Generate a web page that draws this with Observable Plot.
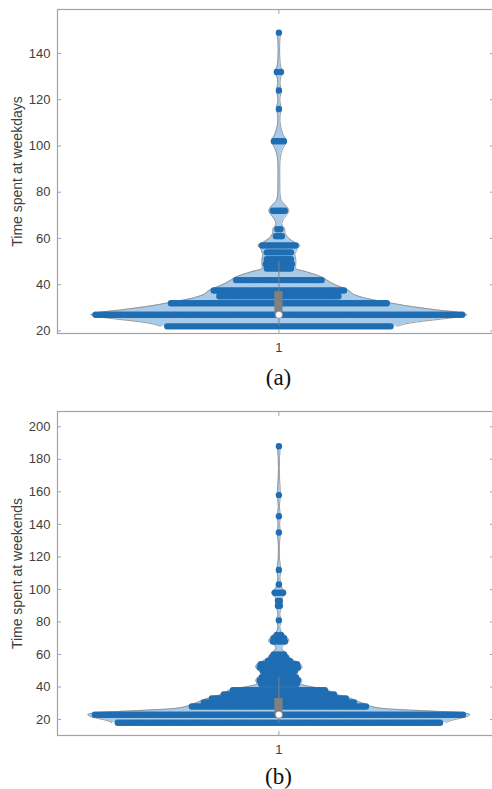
<!DOCTYPE html>
<html>
<head>
<meta charset="utf-8">
<script src="https://cdn.jsdelivr.net/npm/d3@7"></script>
<script src="https://cdn.jsdelivr.net/npm/@observablehq/plot@0.6"></script>
<style>
  html, body { margin: 0; padding: 0; background: #fff; overflow: hidden; width: 492px; }
  .cap { font-family: "Liberation Serif", "Times New Roman", serif; font-size: 23px; color: #111;
         width: 557px; text-align: center; height: 42px; line-height: 36px; }
  .cap.last { height: 27px; line-height: 30px; }
  #wrap > svg { display: block; }
</style>
</head>
<body>
<div id="wrap"></div>
<script>
// ---------- data ----------
const groups = ["1"];

// (a) weekdays: dot rows (value, half-spread as normalised density, number of dots)
const weekdayLevels = [22, 27, 32, 35, 37.5, 42, 47, 49, 51, 54, 57, 61, 64, 72, 102, 116, 124, 132, 149];
const weekdaySpread = [0.60, 0.985, 0.58, 0.32, 0.35, 0.23, 0.065, 0.07, 0.065, 0.065, 0.09, 0.016, 0.008, 0.032, 0.027, 0, 0, 0.011, 0];
const weekdayCounts = [96, 158, 93, 52, 56, 37, 11, 12, 11, 11, 15, 4, 2, 6, 5, 1, 1, 2, 1];
// (a) violin density outline
const weekdayDensityY = [22, 23, 24, 25, 26, 27, 28, 29, 30, 31, 32, 33, 34, 35, 36, 37.5, 39, 40.5, 42, 43.5, 45, 46, 47, 49, 51, 53, 54, 55.5, 57, 58.5, 60, 61, 62.5, 64, 66, 68, 70, 72, 74, 76, 78, 85, 95, 99, 102, 105, 109, 113, 116, 119, 121, 124, 127, 130, 132, 134, 138, 143, 149];
const weekdayDensity = [0.634, 0.677, 0.753, 0.860, 0.957, 1.011, 0.968, 0.860, 0.763, 0.677, 0.608, 0.538, 0.473, 0.430, 0.398, 0.376, 0.333, 0.290, 0.258, 0.226, 0.172, 0.129, 0.091, 0.091, 0.091, 0.086, 0.091, 0.097, 0.113, 0.081, 0.054, 0.043, 0.032, 0.032, 0.016, 0.022, 0.040, 0.054, 0.040, 0.016, 0.008, 0.005, 0.008, 0.022, 0.040, 0.022, 0.008, 0.006, 0.013, 0.006, 0.006, 0.013, 0.006, 0.011, 0.024, 0.011, 0.005, 0.004, 0.008];
// (a) box summary: [lower whisker, q1, median, q3, upper whisker]
const weekdayBox = [22, 27, 27, 37, 50];
const weekdayTicks = [20, 40, 60, 80, 100, 120, 140];

// (b) weekends
const weekendLevels = [18, 23, 28, 30.5, 33, 35.5, 38, 42, 44, 46, 48, 50, 52, 54, 56, 58, 60, 68, 70, 72, 81, 90, 93, 98, 103, 112, 135, 145, 158, 188];
const weekendSpread = [0.866, 0.989, 0.468, 0.403, 0.360, 0.296, 0.247, 0.097, 0.102, 0.091, 0.075, 0.086, 0.102, 0.097, 0.059, 0.038, 0.027, 0.032, 0.027, 0.011, 0, 0.005, 0.005, 0.022, 0, 0, 0, 0, 0, 0];
const weekendCounts = [136, 155, 73, 63, 56, 46, 38, 14, 15, 13, 11, 13, 15, 14, 8, 5, 4, 5, 4, 2, 1, 2, 2, 4, 1, 1, 1, 1, 1, 1];
const weekendDensityY = [18, 19, 20, 21, 22, 23, 24, 25, 26, 27, 28, 29, 30, 31, 32, 33, 34, 35, 36, 37, 38, 39, 40, 41, 42, 44, 46, 48, 50, 52, 54, 56, 58, 60, 62, 64, 66, 68, 70, 72, 74, 77, 81, 85, 90, 93, 95, 98, 101, 103, 107, 112, 118, 128, 135, 140, 145, 151, 158, 170, 180, 188];
const weekendDensity = [0.898, 0.914, 0.946, 0.984, 1.016, 1.027, 0.995, 0.860, 0.672, 0.548, 0.5, 0.473, 0.452, 0.430, 0.409, 0.387, 0.355, 0.323, 0.296, 0.280, 0.269, 0.237, 0.183, 0.140, 0.118, 0.124, 0.113, 0.097, 0.108, 0.124, 0.118, 0.086, 0.059, 0.048, 0.027, 0.016, 0.027, 0.054, 0.048, 0.032, 0.013, 0.005, 0.013, 0.005, 0.016, 0.016, 0.019, 0.038, 0.016, 0.013, 0.005, 0.011, 0.004, 0.003, 0.008, 0.004, 0.008, 0.003, 0.008, 0.003, 0.003, 0.008];
const weekendBox = [18, 23, 23, 33, 46];
const weekendTicks = [20, 40, 60, 80, 100, 120, 140, 160, 180, 200];

// ---------- drawing ----------
const FONT = '"Liberation Sans", Arial, Helvetica, sans-serif';
const DOT = "#1f6db3", FILL = "#a9cbea", EDGE = "#8e8e8e", BOXC = "#808080", AXIS = "#a3a3a3", TXT = "#404040";

function violinPanel({levels, spread, counts, densY, dens, box, yDomain, yTicks, label}) {
  const dots = levels.flatMap((v, i) => d3.range(counts[i]).map(k => ({
    y: v,
    x: counts[i] === 1 ? 0 : -spread[i] + 2 * spread[i] * k / (counts[i] - 1)
  })));
  const outline = densY.map((y, i) => ({y, w: dens[i]}));
  const summary = [{lo: box[0], q1: box[1], med: box[2], q3: box[3], hi: box[4]}];
  const bw = 0.022; // half box width in density units
  return Plot.plot({
    width: 498, height: 360,
    marginLeft: 57, marginRight: 1, marginTop: 9, marginBottom: 27,
    style: {fontFamily: FONT, maxWidth: "none", overflow: "visible", background: "white"},
    x: {domain: [-1.19, 1.175], axis: null},
    y: {domain: yDomain, axis: null},
    marks: [
      Plot.areaX(outline, {y: "y", x1: d => -d.w, x2: d => d.w, fill: FILL, curve: "catmull-rom"}),
      Plot.lineX(outline, {y: "y", x: d => -d.w, stroke: EDGE, strokeWidth: 0.9, curve: "catmull-rom"}),
      Plot.lineX(outline, {y: "y", x: "w", stroke: EDGE, strokeWidth: 0.9, curve: "catmull-rom"}),
      Plot.dot(dots, {x: "x", y: "y", r: 3.2, fill: DOT, stroke: null}),
      Plot.ruleX(summary, {x: 0, y1: "lo", y2: "hi", stroke: BOXC, strokeWidth: 1}),
      Plot.rect(summary, {x1: -bw, x2: bw, y1: "q1", y2: "q3", fill: BOXC}),
      Plot.dot(summary, {x: 0, y: "med", r: 3.6, fill: "white", stroke: BOXC, strokeWidth: 0.8}),
      Plot.frame({stroke: AXIS, strokeWidth: 1.2}),
      // y axis labels + inward ticks on both sides
      Plot.axisY(yTicks, {anchor: "left", tickSize: 0, tickPadding: 7, fontSize: 13, color: TXT, label: null}),
      Plot.axisY(yTicks, {anchor: "left", tickSize: -4, text: null, stroke: AXIS, label: null}),
      Plot.axisY(yTicks, {anchor: "right", tickSize: -8, text: null, stroke: AXIS, label: null}),
      // x axis: category "1"
      Plot.axisX([0], {anchor: "bottom", tickSize: 0, tickPadding: 9, fontSize: 13, color: TXT, tickFormat: () => groups[0], label: null}),
      Plot.axisX([0], {anchor: "bottom", tickSize: -4, text: null, stroke: AXIS, label: null}),
      Plot.axisX([0], {anchor: "top", tickSize: -4, text: null, stroke: AXIS, label: null}),
      // y label
      Plot.text([label], {frameAnchor: "left", rotate: -90, dx: -40, text: d => d, fontSize: 14, fill: TXT, textAnchor: "middle"})
    ]
  });
}

const wrap = document.getElementById("wrap");
wrap.appendChild(violinPanel({
  levels: weekdayLevels, spread: weekdaySpread, counts: weekdayCounts,
  densY: weekdayDensityY, dens: weekdayDensity, box: weekdayBox,
  yDomain: [18.9, 159], yTicks: weekdayTicks, label: "Time spent at weekdays"
}));
const capA = document.createElement("div"); capA.className = "cap"; capA.textContent = "(a)";
wrap.appendChild(capA);
wrap.appendChild(violinPanel({
  levels: weekendLevels, spread: weekendSpread, counts: weekendCounts,
  densY: weekendDensityY, dens: weekendDensity, box: weekendBox,
  yDomain: [10.2, 209.4], yTicks: weekendTicks, label: "Time spent at weekends"
}));
const capB = document.createElement("div"); capB.className = "cap last"; capB.textContent = "(b)";
wrap.appendChild(capB);
</script>
</body>
</html>
